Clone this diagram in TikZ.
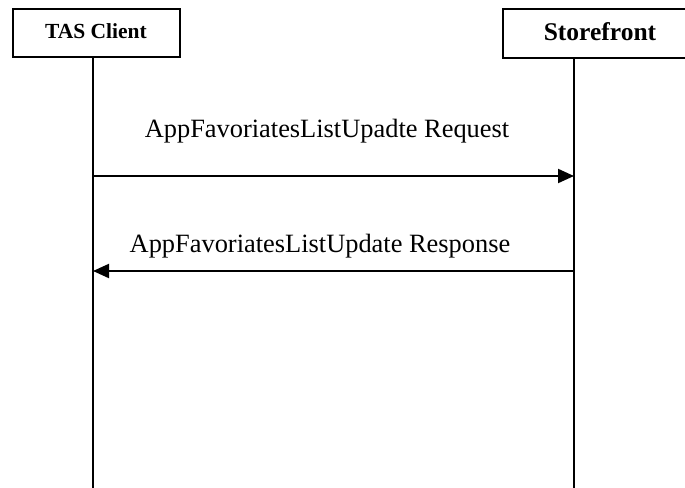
\documentclass[tikz,border=0pt]{standalone}
\usepackage{fontspec}
\setmainfont{Liberation Serif}
\usetikzlibrary{arrows.meta}
\begin{document}
\begin{tikzpicture}[x=1pt,y=-1pt,
  actor/.style={draw,line width=2pt,fill=white,inner sep=0pt,anchor=north west},
  lifeline/.style={line width=1.5pt},
  msg/.style={line width=2pt,-{Triangle[length=16pt,width=14pt]}},
  msglabel/.style={font=\fontsize{26.4}{30}\selectfont,inner sep=0pt,anchor=base}]
\useasboundingbox[clip] (0,0) rectangle (685,487);
% participant heads
\node[actor,minimum width=167pt,minimum height=48pt] (tas) at (12,8) {};
\node[font=\bfseries\fontsize{21.5}{24}\selectfont,inner sep=0pt,anchor=base] (taslabel) at (96,38.5) {TAS Client};
\node[actor,minimum width=200pt,minimum height=49pt] (sf) at (502,8) {};
\node[font=\bfseries\fontsize{25.5}{28}\selectfont,inner sep=0pt,anchor=base] (sflabel) at (600,40.5) {Storefront};
% lifelines
\coordinate (tasend) at (93,490);
\coordinate (sfend) at (574,490);
\draw[lifeline] (tas.south -| tasend) -- (tasend);
\draw[lifeline] (sf.south -| sfend) -- (sfend);
% messages
\coordinate (req0) at (93,176);
\coordinate (req1) at (574,176);
\coordinate (res0) at (574,271);
\coordinate (res1) at (93,271);
\draw[msg] (req0) -- (req1);
\draw[msg] (res0) -- (res1);
\node[msglabel] (reqlabel) at (327,137.5) {AppFavoriatesListUpadte Request};
\node[msglabel] (reslabel) at (320,252) {AppFavoriatesListUpdate Response};
\end{tikzpicture}
\end{document}
